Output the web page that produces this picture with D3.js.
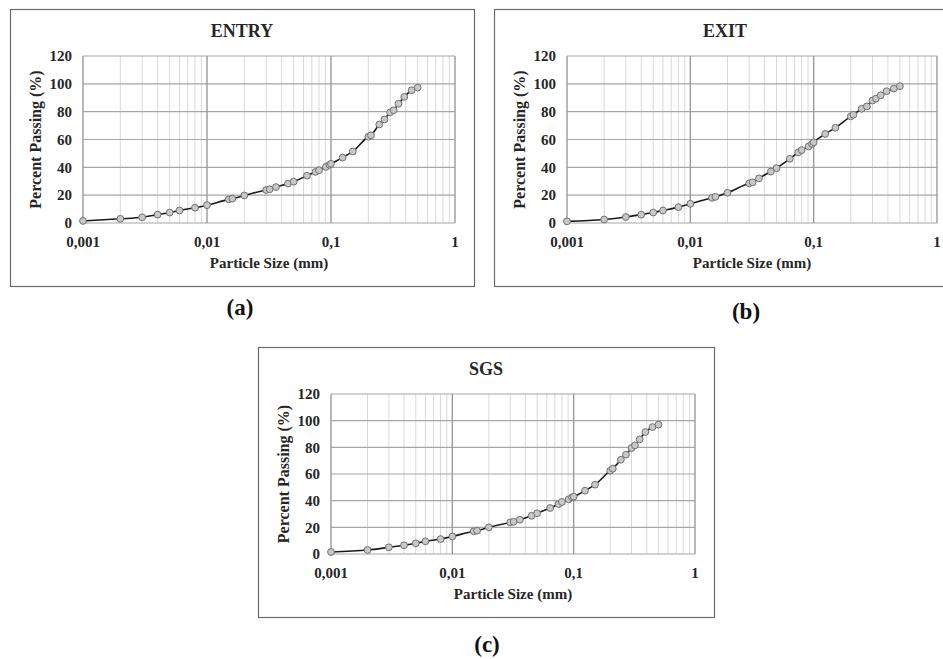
<!DOCTYPE html>
<html lang="en">
<head>
    <meta charset="UTF-8">
    <title>Particle Size Distribution</title>
    <script src="https://d3js.org/d3.v7.min.js"></script>
    <style>
        body { margin: 0; background: #fff; }
    </style>
</head>
<body>
    <div class="charts"></div>
    <script>
        // particle sizes (mm), shared by all three samples
        const sizes = [0.001, 0.002, 0.003, 0.004, 0.005, 0.006, 0.008, 0.01, 0.015, 0.016, 0.02,
            0.03, 0.032, 0.036, 0.045, 0.05, 0.064, 0.075, 0.08, 0.091, 0.097, 0.1, 0.124, 0.15,
            0.2, 0.21, 0.245, 0.27, 0.3, 0.32, 0.35, 0.39, 0.447, 0.5];

        const entryPassing = [1.5, 3, 4.1, 6, 7.5, 9, 11, 12.8, 17, 17.5, 19.8,
            23.7, 24.2, 25.8, 28.3, 29.7, 34, 36.7, 37.9, 40.3, 41.8, 42.5, 47, 51.4,
            62, 63, 70.8, 74.4, 79.5, 81, 85.7, 90.6, 95.4, 97.3];

        const exitPassing = [1.2, 2.5, 4.3, 6, 7.5, 9, 11.4, 13.8, 18.1, 18.8, 21.7,
            28.5, 29.2, 32.1, 37, 39.4, 46.1, 50.7, 52.4, 55, 56.8, 58, 64, 68.4,
            76.6, 77.8, 82.1, 83.8, 88, 89.4, 91.8, 94.7, 96.6, 98.3];

        const sgsPassing = [1.5, 3, 5, 6.5, 8, 9.5, 11.2, 13.2, 17, 17.5, 20,
            23.7, 24.2, 25.7, 28.7, 30.5, 34.5, 37.5, 39, 41, 42.5, 43, 47.5, 52,
            62.5, 64, 70.7, 74.5, 79.5, 81.5, 86, 91.5, 95.2, 97];

        const yTicks = [0, 20, 40, 60, 80, 100, 120];
        const xTicks = [0.001, 0.01, 0.1, 1];
        const xTickLabels = ["0,001", "0,01", "0,1", "1"];

        const panels = [
            { title: "ENTRY", label: "(a)", values: entryPassing, frame: [10, 9, 464, 277], labelPos: [240, 315] },
            { title: "EXIT", label: "(b)", values: exitPassing, frame: [494, 9, 462, 277], labelPos: [746, 319] },
            { title: "SGS", label: "(c)", values: sgsPassing, frame: [258, 347, 456, 270], labelPos: [487, 652] }
        ];

        const font = "'Liberation Serif', 'Times New Roman', 'DejaVu Serif', serif";

        const svg = d3.select('.charts')
            .append('svg')
            .attr('width', 943)
            .attr('height', 659)
            .attr('font-family', font)
            .attr('font-weight', 'bold');

        const margin = { top: 47, right: 19, bottom: 63, left: 73 };

        // minor grid values 2..9 for each decade
        const minor = [];
        [0.001, 0.01, 0.1].forEach(d => {
            for (let k = 2; k <= 9; k++) minor.push(d * k);
        });

        panels.forEach(p => {
            const [fx, fy, fw, fh] = p.frame;
            const g = svg.append('g').attr('transform', `translate(${fx},${fy})`);

            g.append('rect')
                .attr('x', 0.5).attr('y', 0.5)
                .attr('width', fw).attr('height', fh)
                .attr('fill', '#fff')
                .attr('stroke', '#6b6b6b')
                .attr('stroke-width', 1.2);

            const w = fw - margin.left - margin.right;
            const h = fh - margin.top - margin.bottom;

            const x = d3.scaleLog().domain([0.001, 1]).range([0, w]);
            const y = d3.scaleLinear().domain([0, 120]).range([h, 0]);

            const plot = g.append('g').attr('transform', `translate(${margin.left},${margin.top})`);

            // minor vertical grid
            plot.selectAll('.minor')
                .data(minor)
                .enter()
                .append('line')
                .attr('x1', d => x(d)).attr('x2', d => x(d))
                .attr('y1', 0).attr('y2', h)
                .attr('stroke', '#d9d9d9')
                .attr('stroke-width', 1);

            // horizontal grid
            plot.selectAll('.hgrid')
                .data(yTicks)
                .enter()
                .append('line')
                .attr('x1', 0).attr('x2', w)
                .attr('y1', d => y(d)).attr('y2', d => y(d))
                .attr('stroke', '#a6a6a6')
                .attr('stroke-width', 1.2);

            // decade grid
            plot.selectAll('.major')
                .data(xTicks)
                .enter()
                .append('line')
                .attr('x1', d => x(d)).attr('x2', d => x(d))
                .attr('y1', 0).attr('y2', h)
                .attr('stroke', '#9a9a9a')
                .attr('stroke-width', 1.4);

            // y tick labels
            plot.selectAll('.ylab')
                .data(yTicks)
                .enter()
                .append('text')
                .attr('x', -11)
                .attr('y', d => y(d))
                .attr('dy', '0.35em')
                .attr('text-anchor', 'end')
                .attr('font-size', 15)
                .attr('fill', '#262626')
                .text(d => d);

            // x tick labels
            plot.selectAll('.xlab')
                .data(xTicks)
                .enter()
                .append('text')
                .attr('x', d => x(d))
                .attr('y', h + 24)
                .attr('text-anchor', 'middle')
                .attr('font-size', 15)
                .attr('fill', '#262626')
                .text((d, i) => xTickLabels[i]);

            // axis titles
            plot.append('text')
                .attr('x', w / 2)
                .attr('y', h + 45)
                .attr('text-anchor', 'middle')
                .attr('font-size', 15)
                .attr('fill', '#262626')
                .text('Particle Size (mm)');

            plot.append('text')
                .attr('transform', `translate(${-42},${h / 2}) rotate(-90)`)
                .attr('text-anchor', 'middle')
                .attr('font-size', 16)
                .attr('fill', '#262626')
                .text('Percent Passing (%)');

            // chart title
            g.append('text')
                .attr('x', fw / 2)
                .attr('y', 28)
                .attr('text-anchor', 'middle')
                .attr('font-size', 18)
                .attr('fill', '#262626')
                .text(p.title);

            const pts = sizes.map((s, i) => [s, p.values[i]]);

            const line = d3.line()
                .x(d => x(d[0]))
                .y(d => y(d[1]))
                .curve(d3.curveMonotoneX);

            plot.append('path')
                .datum(pts)
                .attr('d', line)
                .attr('fill', 'none')
                .attr('stroke', '#1a1a1a')
                .attr('stroke-width', 1.6);

            plot.selectAll('circle')
                .data(pts)
                .enter()
                .append('circle')
                .attr('cx', d => x(d[0]))
                .attr('cy', d => y(d[1]))
                .attr('r', 3.4)
                .attr('fill', '#c8c8c8')
                .attr('stroke', '#707070')
                .attr('stroke-width', 1);

            // panel label
            svg.append('text')
                .attr('x', p.labelPos[0])
                .attr('y', p.labelPos[1])
                .attr('text-anchor', 'middle')
                .attr('font-size', 23)
                .attr('fill', '#111')
                .text(p.label);
        });
    </script>
</body>
</html>
